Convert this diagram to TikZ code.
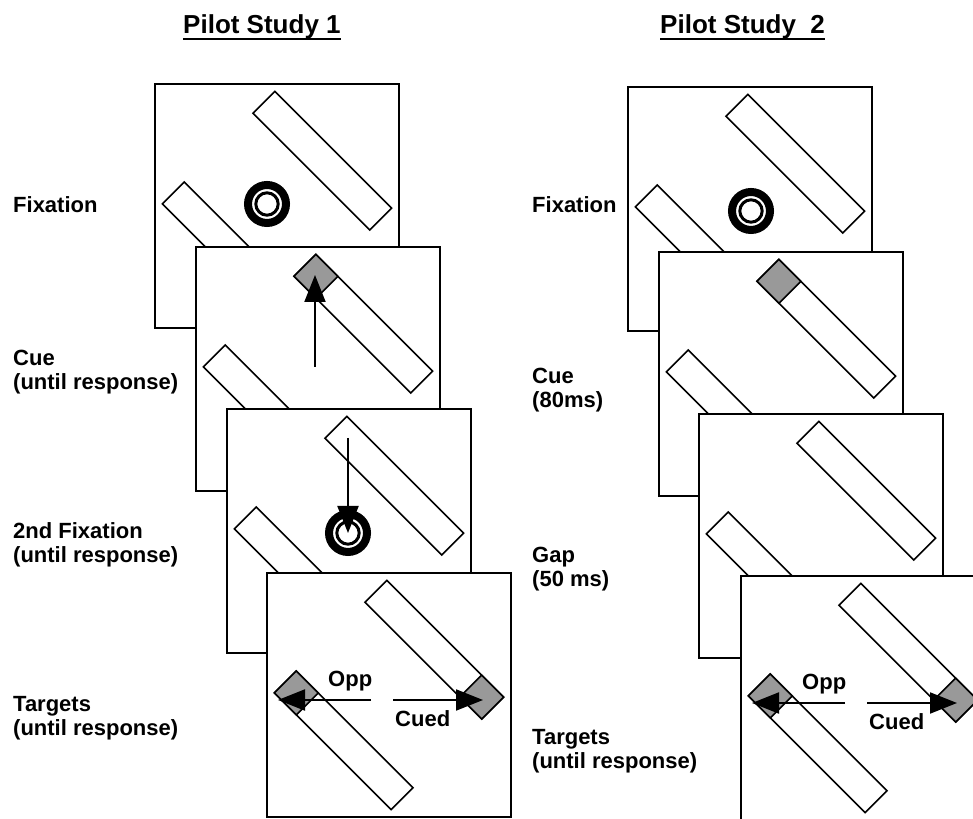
\documentclass[tikz,border=0pt]{standalone}
\usepackage{fontspec}
\setmainfont{Liberation Sans}
\usetikzlibrary{arrows.meta}

% a screen: white frame with the two tilted bars, extra content in #2
\newcommand{\screen}[2]{%
  \begin{scope}[shift={(#1)}]
    \draw[screenbox] (-122,-122) rectangle (122,122);
    \draw[stripbar, shift={(45.3,45.3)}, rotate=-45] (-82.5,-15.5) rectangle (82.5,15.5);
    \draw[stripbar, shift={(-45.3,-45.3)}, rotate=-45] (-82.5,-15.5) rectangle (82.5,15.5);
    #2
  \end{scope}}
% grey ends of the bars
\newcommand{\cuetop}{\draw[cuebox, shift={(45.3,45.3)}, rotate=-45] (-82.5,-15.5) rectangle (-51.5,15.5);}
\newcommand{\cueend}{\draw[cuebox, shift={(45.3,45.3)}, rotate=-45] (51.5,-15.5) rectangle (82.5,15.5);}
\newcommand{\cueopp}{\draw[cuebox, shift={(-45.3,-45.3)}, rotate=-45] (-82.5,-15.5) rectangle (-51.5,15.5);}
% target screen, #1 = suffix for the names
\newcommand{\targets}[1]{%
  \cueend \cueopp
  \coordinate (os#1) at (-18,-5); \coordinate (ot#1) at (-111,-5);
  \coordinate (cs#1) at (4,-5);   \coordinate (ct#1) at (94,-5);
  \draw[gazearrow] (os#1) -- (ot#1);
  \draw[gazearrow] (cs#1) -- (ct#1);
  \node[tag] (opp#1) at (-61,8) {Opp};
  \node[tag] (cued#1) at (6,-32) {Cued};}

\begin{document}
\begin{tikzpicture}[x=1pt, y=1pt,
    screenbox/.style = {draw, fill=white, line width=2pt},
    stripbar/.style = {draw, fill=white, line width=1.6pt},
    cuebox/.style = {draw, fill=black!40, line width=1.6pt},
    ringout/.style = {circle, draw, line width=8pt, minimum size=38pt, inner sep=0pt},
    ringin/.style = {circle, draw, line width=3pt, minimum size=22.4pt, inner sep=0pt},
    gazearrow/.style = {line width=2pt, -{Triangle[length=27pt, width=21pt]}},
    tag/.style = {anchor=base west, inner sep=0pt,
        font=\bfseries\fontsize{22}{24}\selectfont},
    phase/.style = {anchor=base west, align=left, inner sep=0pt,
        font=\bfseries\fontsize{22}{24}\selectfont},
    studyhead/.style = {anchor=base west, inner sep=0pt,
        font=\bfseries\fontsize{26}{30}\selectfont}]
\useasboundingbox (0,0) rectangle (973,818);
\clip (0,0) rectangle (973,818);

% titles
\node[studyhead] (title1) at (183,784) {Pilot Study 1};
\node[studyhead] (title2) at (660,784) {Pilot Study~~2};
\draw[line width=1.8pt] ([yshift=-5pt]title1.base west) -- ([yshift=-5pt]title1.base east);
\draw[line width=1.8pt] ([yshift=-5pt]title2.base west) -- ([yshift=-5pt]title2.base east);

% Pilot Study 1
\screen{277,612}{
  \node[ringout] (fix1) at (-10,2) {};
  \node[ringin] (fixin1) at (fix1) {};}
\screen{318,449}{
  \cuetop
  \coordinate (up1) at (-3,2);
  \coordinate (uptip1) at (-3,94);
  \draw[gazearrow] (up1) -- (uptip1);}
\screen{349,287}{
  \node[ringout] (fix2) at (-1,-2) {};
  \node[ringin] (fixin2) at (fix2) {};
  \coordinate (down1) at (-1,93);
  \draw[gazearrow] (down1) -- (fix2.center);}
\screen{389,123}{\targets{a}}

% Pilot Study 2
\screen{750,609}{
  \node[ringout] (fix3) at (1,-2) {};
  \node[ringin] (fixin3) at (fix3) {};}
\screen{781,444}{\cuetop}
\screen{821,282}{}
\screen{863,120}{\targets{b}}

% phase labels (base = last line)
\node[phase] (lfix) at (13,605) {Fixation};
\node[phase] (lcue) at (13,428) {Cue\\(until response)};
\node[phase] (lfix2) at (13,255) {2nd Fixation\\(until response)};
\node[phase] (ltar) at (13,82) {Targets\\(until response)};
\node[phase] (rfix) at (532,605) {Fixation};
\node[phase] (rcue) at (532,410) {Cue\\(80ms)};
\node[phase] (rgap) at (532,231) {Gap\\(50 ms)};
\node[phase] (rtar) at (532,49) {Targets\\(until response)};
\end{tikzpicture}
\end{document}
